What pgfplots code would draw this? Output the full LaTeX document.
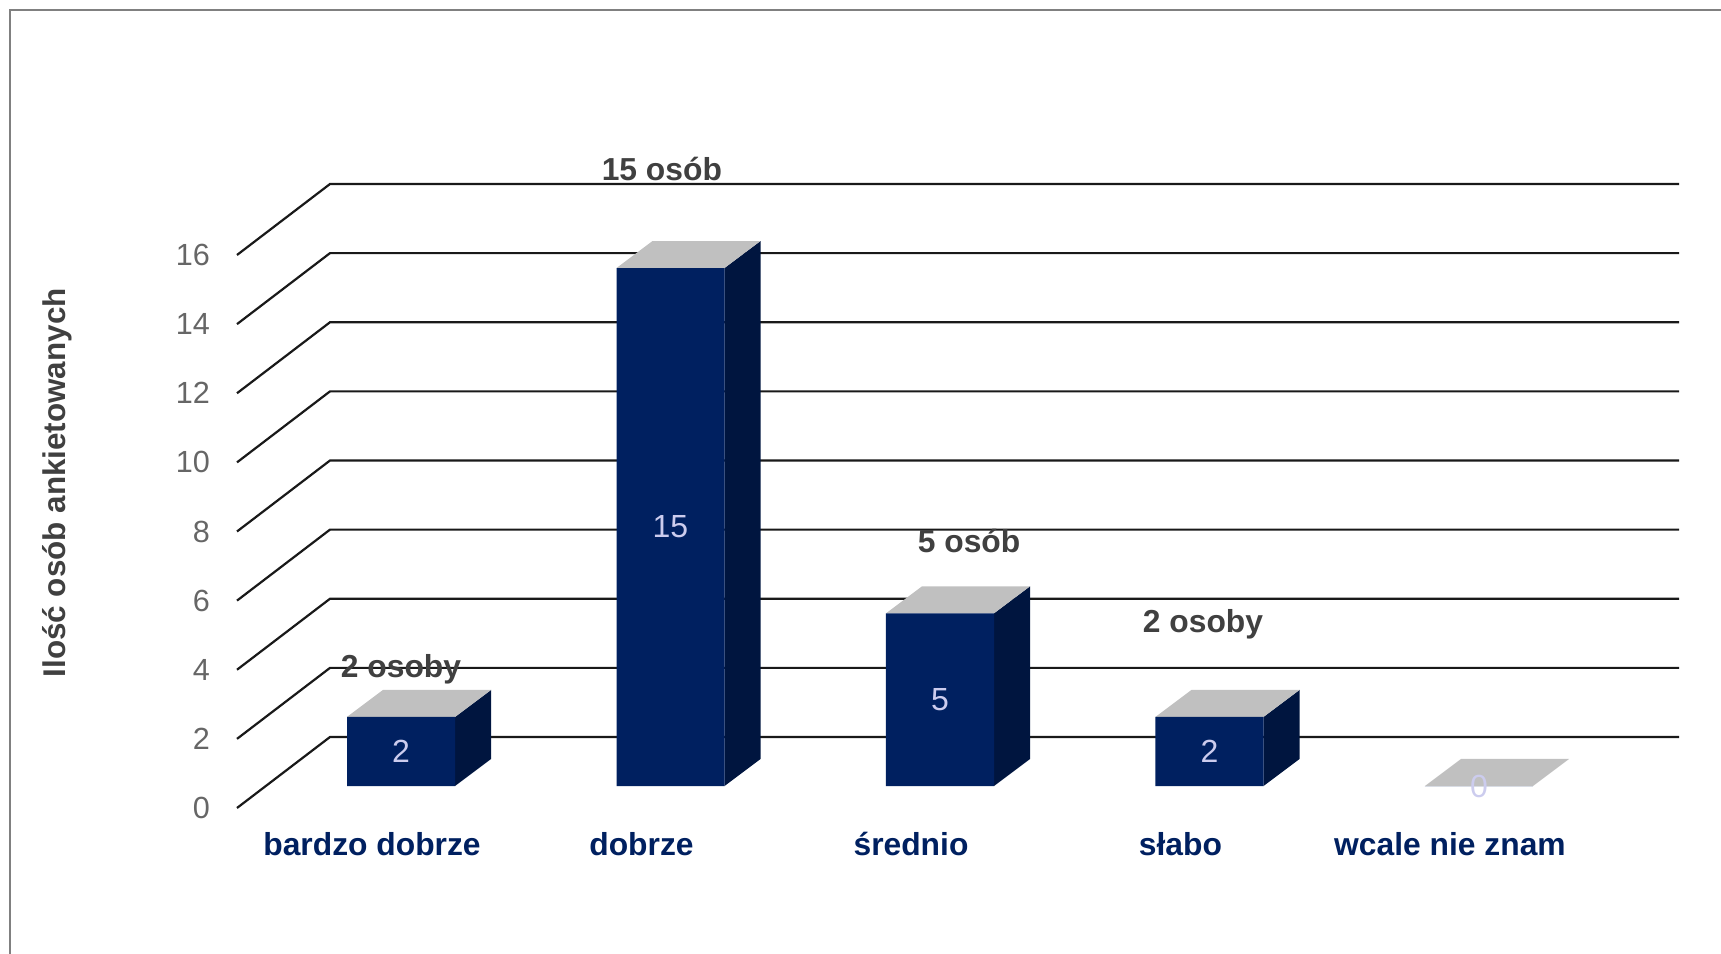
\documentclass[border=0pt]{standalone}
\usepackage{fontspec}
\setmainfont{Liberation Sans}
\usepackage{pgfplots}
\pgfplotsset{compat=1.18}
\definecolor{Front}{HTML}{002060}
\definecolor{Side}{HTML}{00153F}
\definecolor{TopC}{HTML}{C0C0C0}
\definecolor{Lab}{HTML}{404040}
\definecolor{TickC}{HTML}{666666}
\definecolor{Val}{HTML}{CCCCEE}
\pgfplotsset{
  every axis/.append style={
    scale only axis,clip=false,anchor=south west,
    /pgf/number format/assume math mode=true,
    major tick length=0pt}}
\begin{document}
\begin{tikzpicture}
\path[use as bounding box] (0,0) rectangle (860.5pt,477pt);
\draw[color=gray,line width=0.8pt] (5pt,0) -- (5pt,472pt) -- (860.5pt,472pt);

% walls and gridlines, x in pixels of the source
\begin{axis}[at={(118.5pt,73pt)},width=721pt,height=276.5pt,
  xmin=237,xmax=1679,ymin=0,ymax=16,
  axis x line=none,axis y line=left,y axis line style={draw=none},
  ytick={0,2,...,16},
  y tick label style={font=\fontsize{15.3}{18}\selectfont,color=TickC,xshift=-10pt},
  ylabel={Ilość osób ankietowanych},
  every axis y label/.style={at={(rel axis cs:-0.1247,0.588)},rotate=90,anchor=center,
    font=\fontsize{15.7}{18}\selectfont\bfseries,color=Lab}]
\addplot[color=black!90,line width=1.1pt,no marks] coordinates {(237,0) (330,2.054) (1679,2.054)};
\addplot[color=black!90,line width=1.1pt,no marks] coordinates {(237,2) (330,4.054) (1679,4.054)};
\addplot[color=black!90,line width=1.1pt,no marks] coordinates {(237,4) (330,6.054) (1679,6.054)};
\addplot[color=black!90,line width=1.1pt,no marks] coordinates {(237,6) (330,8.054) (1679,8.054)};
\addplot[color=black!90,line width=1.1pt,no marks] coordinates {(237,8) (330,10.054) (1679,10.054)};
\addplot[color=black!90,line width=1.1pt,no marks] coordinates {(237,10) (330,12.054) (1679,12.054)};
\addplot[color=black!90,line width=1.1pt,no marks] coordinates {(237,12) (330,14.054) (1679,14.054)};
\addplot[color=black!90,line width=1.1pt,no marks] coordinates {(237,14) (330,16.054) (1679,16.054)};
\addplot[color=black!90,line width=1.1pt,no marks] coordinates {(237,16) (330,18.054) (1679,18.054)};
\end{axis}

% bars, standing a little in front of the back wall
\begin{axis}[at={(133.125pt,84pt)},width=673.75pt,height=276.24pt,
  xmin=-0.5,xmax=4.5,ymin=0,ymax=16,
  axis y line=none,axis x line=bottom,x axis line style={draw=none},
  xtick={0,1,2,3,4},
  xticklabels={bardzo dobrze,dobrze,średnio,słabo,wcale nie znam},
  x tick label style={font=\fontsize{15.9}{18}\selectfont\bfseries,color=Front,
    xshift=-14.5pt,yshift=-20pt,text height=11pt,text depth=3pt}]
% sides
\addplot[fill=Side,draw=none] coordinates {(0.2004,0) (0.3340,0.782) (0.3340,2.782) (0.2004,2)} \closedcycle;
\addplot[fill=Side,draw=none] coordinates {(1.2004,0) (1.3340,0.782) (1.3340,15.782) (1.2004,15)} \closedcycle;
\addplot[fill=Side,draw=none] coordinates {(2.2004,0) (2.3340,0.782) (2.3340,5.782) (2.2004,5)} \closedcycle;
\addplot[fill=Side,draw=none] coordinates {(3.2004,0) (3.3340,0.782) (3.3340,2.782) (3.2004,2)} \closedcycle;
% tops
\addplot[fill=TopC,draw=none] coordinates {(-0.2004,2) (-0.0668,2.782) (0.3340,2.782) (0.2004,2)} --cycle;
\addplot[fill=TopC,draw=none] coordinates {(0.7996,15) (0.9332,15.782) (1.3340,15.782) (1.2004,15)} --cycle;
\addplot[fill=TopC,draw=none] coordinates {(1.7996,5) (1.9332,5.782) (2.3340,5.782) (2.2004,5)} --cycle;
\addplot[fill=TopC,draw=none] coordinates {(2.7996,2) (2.9332,2.782) (3.3340,2.782) (3.2004,2)} --cycle;
\addplot[fill=TopC,draw=none] coordinates {(3.7996,0) (3.9332,0.782) (4.3340,0.782) (4.2004,0)} --cycle;
% fronts
\addplot[ybar,bar width=54pt,fill=Front,draw=none,
  visualization depends on={y \as \rawy},
  nodes near coords,
  every node near coord/.append style={font=\fontsize{16}{18}\selectfont,color=Val,
    anchor=center,shift={(axis direction cs:0,-\rawy/2)}}]
  coordinates {(0,2) (1,15) (2,5) (3,2) (4,0)};
\node[font=\fontsize{15.9}{18}\selectfont\bfseries,color=Lab] at (axis cs:0,3.37) {2 osoby};
\node[font=\fontsize{15.9}{18}\selectfont\bfseries,color=Lab] at (axis cs:0.968,17.87) {15 osób};
\node[font=\fontsize{15.9}{18}\selectfont\bfseries,color=Lab] at (axis cs:2.108,7.09) {5 osób};
\node[font=\fontsize{15.9}{18}\selectfont\bfseries,color=Lab] at (axis cs:2.976,4.68) {2 osoby};
\end{axis}
\end{tikzpicture}
\end{document}
